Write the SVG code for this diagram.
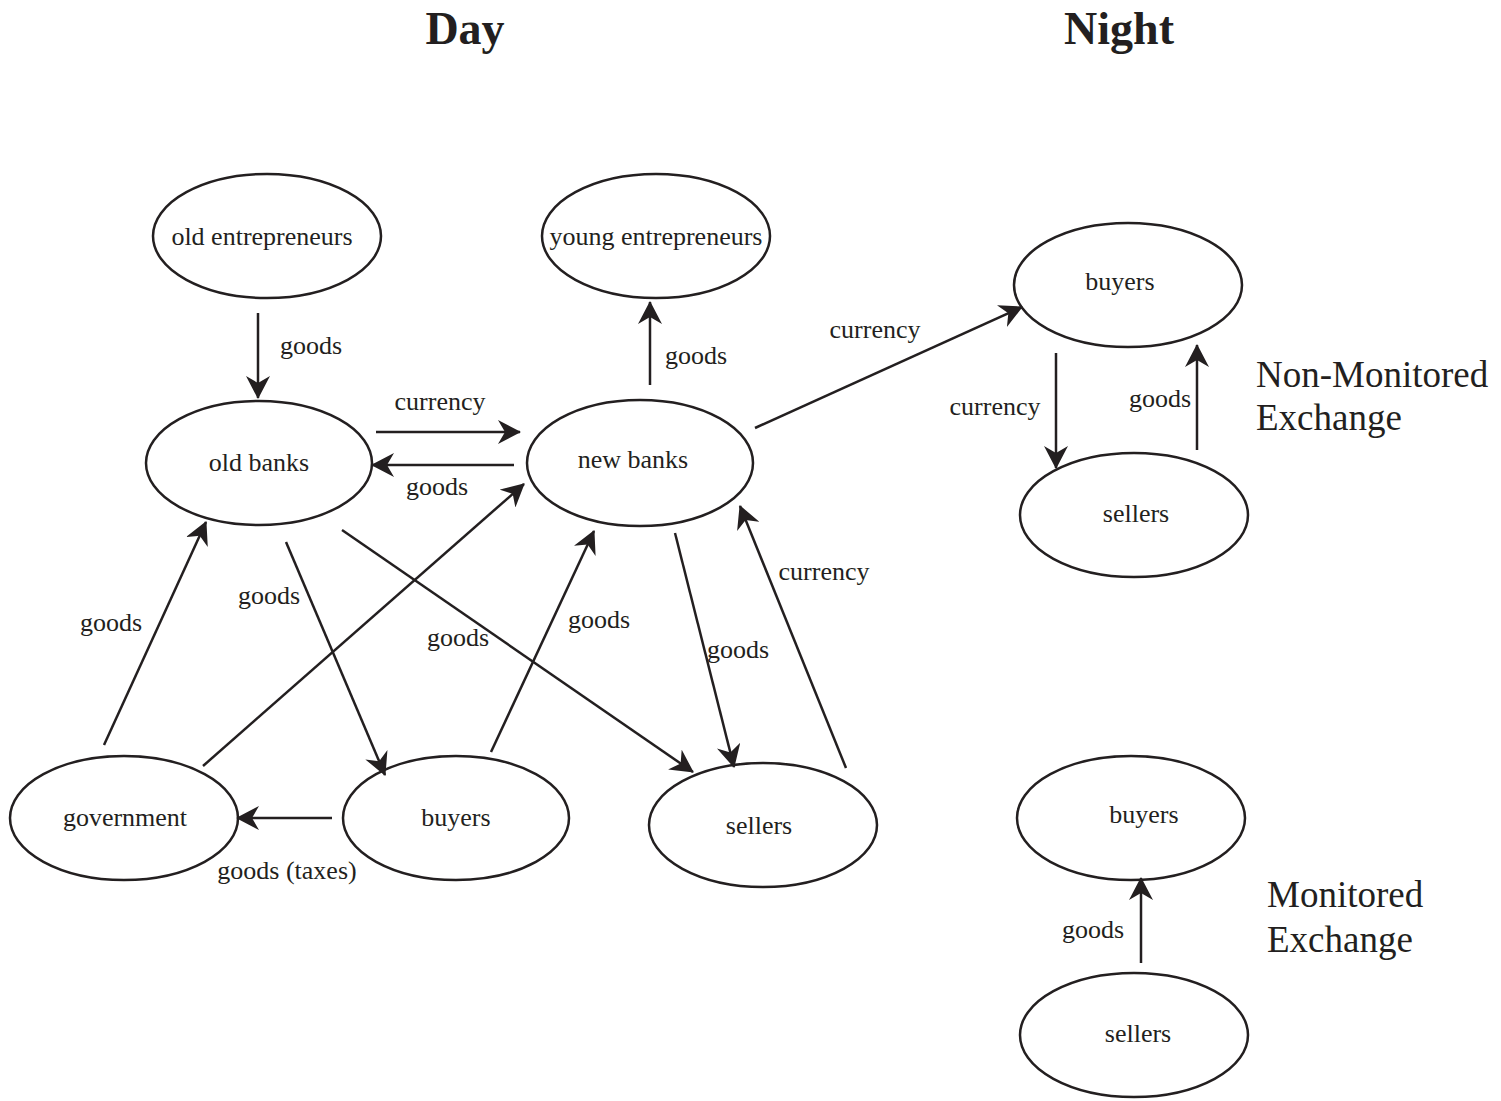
<svg xmlns="http://www.w3.org/2000/svg" width="1501" height="1101" viewBox="0 0 1501 1101">
<style>
.n ellipse{fill:#fff;stroke:#231f20;stroke-width:2.5}
text{font-family:"Liberation Serif","Times New Roman",serif;fill:#231f20}
.t{font-size:26px;text-anchor:middle}
.lb{font-size:26px;text-anchor:middle}
.h{font-size:46px;font-weight:bold;text-anchor:middle}
.s{font-size:37px}
.c line{stroke:#231f20;stroke-width:2.5;marker-end:url(#a)}
</style>
<defs>
<marker id="a" markerUnits="userSpaceOnUse" markerWidth="23" markerHeight="24" viewBox="0 0 23 24" refX="22" refY="12" orient="auto">
<path d="M0,0 L23,12 L0,24 L7,12 Z" fill="#231f20"/>
</marker>
</defs>
<text class="h" x="465" y="44">Day</text>
<text class="h" x="1119" y="44">Night</text>
<g id="old-entrepreneurs" class="n"><ellipse cx="267" cy="236" rx="114" ry="62"/><text class="t" x="262" y="245">old entrepreneurs</text></g>
<g id="young-entrepreneurs" class="n"><ellipse cx="656" cy="236" rx="114" ry="62"/><text class="t" x="656" y="245">young entrepreneurs</text></g>
<g id="old-banks" class="n"><ellipse cx="259" cy="463" rx="113" ry="62"/><text class="t" x="259" y="471">old banks</text></g>
<g id="new-banks" class="n"><ellipse cx="640" cy="463" rx="113" ry="63"/><text class="t" x="633" y="468">new banks</text></g>
<g id="government" class="n"><ellipse cx="124" cy="818" rx="114" ry="62"/><text class="t" x="125" y="826">government</text></g>
<g id="buyers-day" class="n"><ellipse cx="456" cy="818" rx="113" ry="62"/><text class="t" x="456" y="826">buyers</text></g>
<g id="sellers-day" class="n"><ellipse cx="763" cy="825" rx="114" ry="62"/><text class="t" x="759" y="834">sellers</text></g>
<g id="buyers-nm" class="n"><ellipse cx="1128" cy="285" rx="114" ry="62"/><text class="t" x="1120" y="290">buyers</text></g>
<g id="sellers-nm" class="n"><ellipse cx="1134" cy="515" rx="114" ry="62"/><text class="t" x="1136" y="522">sellers</text></g>
<g id="buyers-m" class="n"><ellipse cx="1131" cy="818" rx="114" ry="62"/><text class="t" x="1144" y="823">buyers</text></g>
<g id="sellers-m" class="n"><ellipse cx="1134" cy="1035" rx="114" ry="62"/><text class="t" x="1138" y="1042">sellers</text></g>
<g id="connectors" class="c">
<line x1="258" y1="313" x2="258" y2="398"/>
<line x1="376" y1="432" x2="520" y2="432"/>
<line x1="514" y1="465" x2="372" y2="465"/>
<line x1="650" y1="385" x2="650" y2="302"/>
<line x1="755" y1="428" x2="1022" y2="307"/>
<line x1="1056" y1="353" x2="1056" y2="468"/>
<line x1="1197" y1="450" x2="1197" y2="345"/>
<line x1="1141" y1="963" x2="1141" y2="878"/>
<line x1="104" y1="745" x2="206" y2="522"/>
<line x1="203" y1="766" x2="524" y2="484"/>
<line x1="286" y1="542" x2="385" y2="775"/>
<line x1="342" y1="530" x2="693" y2="772"/>
<line x1="491" y1="752" x2="594" y2="531"/>
<line x1="675" y1="533" x2="734" y2="767"/>
<line x1="846" y1="768" x2="740" y2="506"/>
<line x1="332" y1="818" x2="237" y2="818"/>
</g>
<g id="labels">
<text class="lb" x="311" y="354">goods</text>
<text class="lb" x="440" y="410">currency</text>
<text class="lb" x="437" y="495">goods</text>
<text class="lb" x="696" y="364">goods</text>
<text class="lb" x="875" y="338">currency</text>
<text class="lb" x="995" y="415">currency</text>
<text class="lb" x="1160" y="407">goods</text>
<text class="lb" x="1093" y="938">goods</text>
<text class="lb" x="111" y="631">goods</text>
<text class="lb" x="269" y="604">goods</text>
<text class="lb" x="458" y="646">goods</text>
<text class="lb" x="599" y="628">goods</text>
<text class="lb" x="738" y="658">goods</text>
<text class="lb" x="824" y="580">currency</text>
<text class="lb" x="287" y="879">goods (taxes)</text>
<text class="s" x="1256" y="387">Non-Monitored</text>
<text class="s" x="1256" y="430">Exchange</text>
<text class="s" x="1267" y="907">Monitored</text>
<text class="s" x="1267" y="952">Exchange</text>
</g>
</svg>
